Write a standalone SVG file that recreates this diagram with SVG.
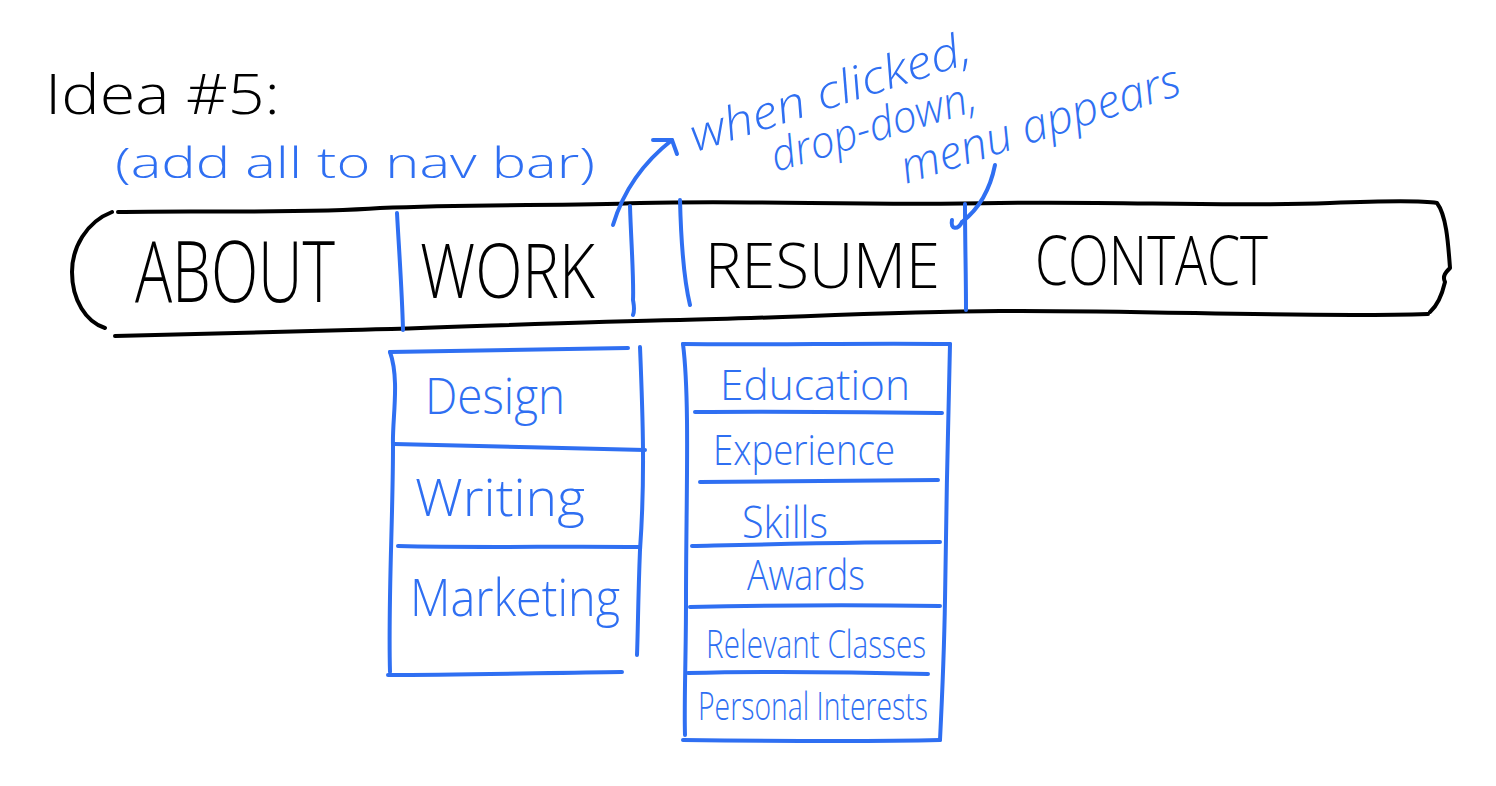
<svg xmlns="http://www.w3.org/2000/svg" width="1496" height="786" viewBox="0 0 1496 786">
<defs>
<style>
.bk{fill:none;stroke:#000;stroke-width:4;stroke-linecap:round;stroke-linejoin:round}
.bl{fill:none;stroke:#2f6ff2;stroke-width:4;stroke-linecap:round;stroke-linejoin:round}
.tb{font-family:"Open Sans","Liberation Sans",sans-serif;font-weight:300;fill:#000}
.tu{font-family:"Open Sans","Liberation Sans",sans-serif;font-weight:300;fill:#2f6ff2}
.ti{font-family:"Open Sans","Liberation Sans",sans-serif;font-weight:300;font-style:italic;fill:#2f6ff2}
</style>
</defs>
<rect width="1496" height="786" fill="#fff"/>

<g id="title">
<text class="tb" x="45" y="114" font-size="56" textLength="235" lengthAdjust="spacingAndGlyphs">Idea #5:</text>
</g>
<g id="subtitle">
<text class="tu" x="115" y="178" font-size="42" textLength="480" lengthAdjust="spacingAndGlyphs">(add all to nav bar)</text>
</g>
<g id="annotation">
<text class="ti" font-size="46" transform="translate(696,152) rotate(-18)" textLength="292" lengthAdjust="spacingAndGlyphs">when clicked,</text>
<text class="ti" font-size="44" transform="translate(776,172) rotate(-17)" textLength="212" lengthAdjust="spacingAndGlyphs">drop-down,</text>
<text class="ti" font-size="46" transform="translate(906,184) rotate(-18)" textLength="292" lengthAdjust="spacingAndGlyphs">menu appears</text>
</g>

<g id="navbar">
<path class="bk" d="M118,212 C200,210 300,214 380,208 C480,204 560,206 640,203 C760,200 860,206 1000,203 C1120,201 1220,207 1330,203 C1380,201 1420,200 1437,203 C1446,215 1448,240 1450,268 C1446,272 1442,276 1445,282 C1442,295 1438,305 1430,312"/>
<path class="bk" d="M1428,314 C1300,318 1150,310 1000,311 C880,312 780,318 680,320 C560,322 450,328 350,330 C260,332 180,335 115,336"/>
<path class="bk" d="M112,212 C86,222 72,248 72,272 C72,300 86,322 105,328"/>
</g>
<g id="nav-about">
<text class="tb" x="135" y="302" font-size="84" textLength="200" lengthAdjust="spacingAndGlyphs">ABOUT</text>
</g>
<g id="nav-work">
<path class="bl" d="M397,213 C399,250 402,290 403,330"/>
<text class="tb" x="420" y="298" font-size="76" textLength="175" lengthAdjust="spacingAndGlyphs">WORK</text>
<path class="bl" d="M630,206 C631,240 634,280 633,300 C634,306 635,310 633,315"/>
</g>
<g id="nav-resume">
<path class="bl" d="M680,200 C681,240 684,280 690,305"/>
<text class="tb" x="705" y="288" font-size="62" textLength="235" lengthAdjust="spacingAndGlyphs">RESUME</text>
<path class="bl" d="M965,204 C965,240 966,275 966,310"/>
</g>
<g id="nav-contact">
<text class="tb" x="1035" y="285" font-size="68" textLength="233" lengthAdjust="spacingAndGlyphs">CONTACT</text>
</g>

<g id="menu-work">
<path class="bl" d="M390,352 C400,380 392,420 393,445 C393,520 388,600 390,672"/>
<path class="bl" d="M390,352 C470,350 550,350 628,348"/>
<path class="bl" d="M640,347 C643,420 645,480 640,550 C638,600 638,630 637,655"/>
<path class="bl" d="M394,444 C480,446 560,448 645,450"/>
<path class="bl" d="M398,546 C480,548 560,546 640,547"/>
<path class="bl" d="M388,675 C460,675 540,673 622,672"/>
</g>
<g id="item-design"><text class="tu" x="425" y="414" font-size="50" textLength="140" lengthAdjust="spacingAndGlyphs">Design</text></g>
<g id="item-writing"><text class="tu" x="415" y="516" font-size="52" textLength="170" lengthAdjust="spacingAndGlyphs">Writing</text></g>
<g id="item-marketing"><text class="tu" x="410" y="616" font-size="52" textLength="210" lengthAdjust="spacingAndGlyphs">Marketing</text></g>

<g id="menu-resume">
<path class="bl" d="M683,344 C690,400 686,500 686,600 C686,660 684,700 685,735"/>
<path class="bl" d="M683,344 C770,345 860,343 950,344"/>
<path class="bl" d="M950,344 C948,420 946,520 945,600 C944,660 942,700 940,740"/>
<path class="bl" d="M695,412 C780,411 860,412 942,413"/>
<path class="bl" d="M700,482 C780,481 860,480 938,480"/>
<path class="bl" d="M692,546 C780,544 860,542 940,542"/>
<path class="bl" d="M690,607 C780,605 860,605 940,606"/>
<path class="bl" d="M688,673 C770,671 850,672 928,674"/>
<path class="bl" d="M683,740 C770,741 860,742 940,740"/>
</g>
<g id="item-education"><text class="tu" x="720" y="400" font-size="42" textLength="190" lengthAdjust="spacingAndGlyphs">Education</text></g>
<g id="item-experience"><text class="tu" x="713" y="465" font-size="42" textLength="182" lengthAdjust="spacingAndGlyphs">Experience</text></g>
<g id="item-skills"><text class="tu" x="742" y="538" font-size="44" textLength="86" lengthAdjust="spacingAndGlyphs">Skills</text></g>
<g id="item-awards"><text class="tu" x="747" y="590" font-size="42" textLength="118" lengthAdjust="spacingAndGlyphs">Awards</text></g>
<g id="item-classes"><text class="tu" x="706" y="658" font-size="38" textLength="220" lengthAdjust="spacingAndGlyphs">Relevant Classes</text></g>
<g id="item-interests"><text class="tu" x="698" y="720" font-size="38" textLength="230" lengthAdjust="spacingAndGlyphs">Personal Interests</text></g>

<g id="connectors">
<path class="bl" d="M613,225 C622,195 640,165 672,140"/>
<path class="bl" d="M653,140 L672,140 L677,154"/>
<path class="bl" d="M995,165 C990,190 980,208 962,222"/>
<path class="bl" d="M962,222 C958,230 950,230 952,220"/>
</g>
</svg>
